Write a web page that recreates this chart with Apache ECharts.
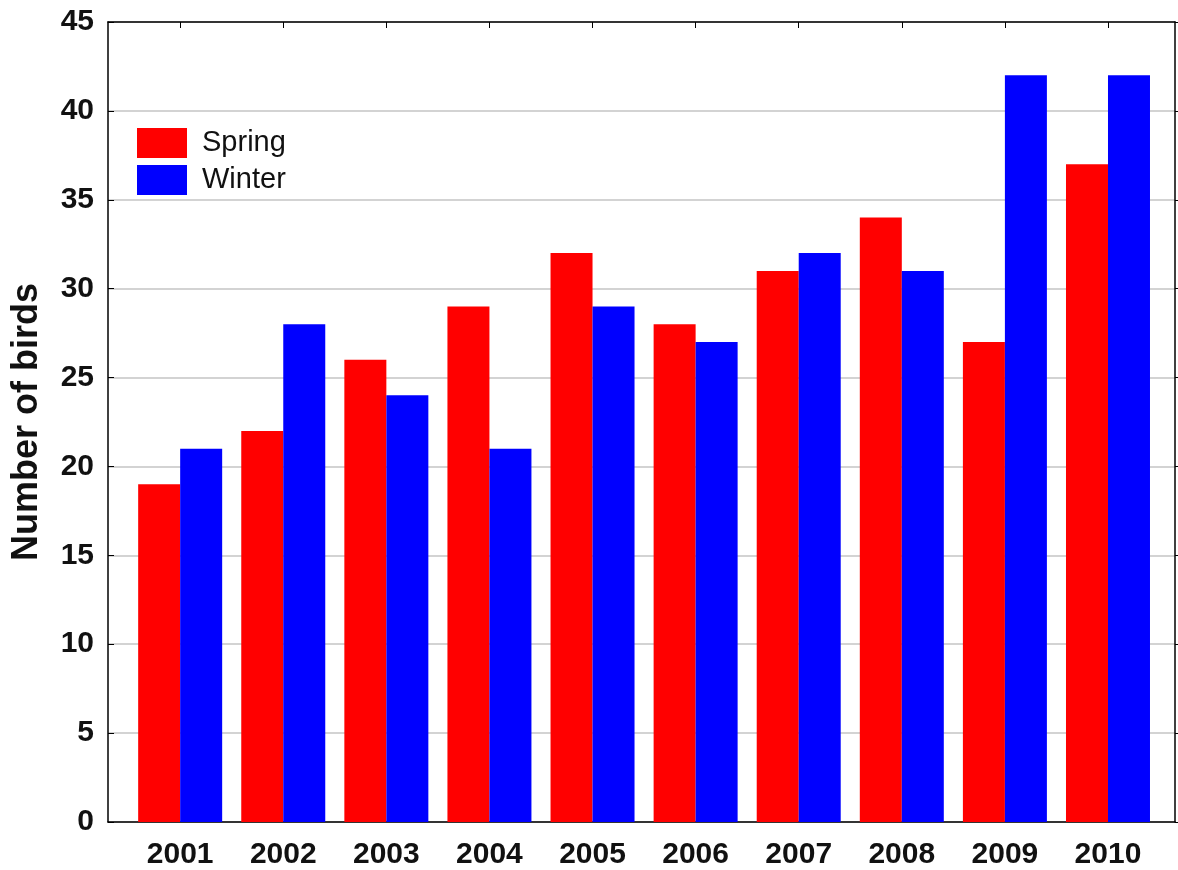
<!DOCTYPE html>
<html>
<head>
<meta charset="utf-8">
<script src="https://cdn.jsdelivr.net/npm/echarts@6/dist/echarts.min.js"></script>
<style>html,body{margin:0;padding:0;background:#fff}#c{width:1178px;height:870px}</style>
</head>
<body>
<div id="c"></div>
<script>
var years = [2001, 2002, 2003, 2004, 2005, 2006, 2007, 2008, 2009, 2010];
var spring = [19, 22, 26, 29, 32, 28, 31, 34, 27, 37];
var winter = [21, 28, 24, 21, 29, 27, 32, 31, 42, 42];
var yTicks = [0, 5, 10, 15, 20, 25, 30, 35, 40, 45];

var chart = echarts.init(document.getElementById('c'));
var font = 'Liberation Sans, Arial, sans-serif';
function pairs(v) { return years.map(function (y, i) { return [y, v[i]]; }); }

chart.setOption({
  animation: false,
  backgroundColor: '#fff',
  grid: { left: 108, right: 3, top: 22, bottom: 48, containLabel: false, outerBoundsMode: 'none' },
  legend: {
    orient: 'vertical', left: 132, top: 123,
    itemWidth: 50, itemHeight: 30, itemGap: 7,
    icon: 'rect',
    textStyle: { fontFamily: font, fontSize: 29, color: '#111', padding: [0, 0, 0, 10] },
    data: ['Spring', 'Winter']
  },
  xAxis: [{
    type: 'value', min: 2000.3, max: 2010.65,
    axisLine: { show: true, onZero: false, lineStyle: { color: '#000', width: 1.5 } },
    axisTick: { show: false },
    splitLine: { show: false },
    axisLabel: {
      customValues: years, margin: 18,
      fontFamily: font, fontWeight: 'bold', fontSize: 30, color: '#111',
      formatter: function (v) { return String(v); }
    }
  }, {
    type: 'value', min: 2000.3, max: 2010.65, position: 'top',
    axisLine: { show: true, onZero: false, lineStyle: { color: '#000', width: 1.5 } },
    axisTick: { show: true, inside: true, length: 6, customValues: years, lineStyle: { color: '#000' } },
    axisLabel: { show: false },
    splitLine: { show: false }
  }],
  yAxis: [{
    type: 'value', min: 0, max: 45, interval: 5,
    name: 'Number of birds', nameLocation: 'middle', nameGap: 63,
    nameTextStyle: { fontFamily: font, fontWeight: 'bold', fontSize: 36, color: '#111' },
    axisLine: { show: true, onZero: false, lineStyle: { color: '#000', width: 1.5 } },
    axisTick: { show: true, inside: true, length: 6, lineStyle: { color: '#000' } },
    axisLabel: { fontFamily: font, fontWeight: 'bold', fontSize: 30, color: '#111', margin: 14 },
    splitLine: { show: true, lineStyle: { color: '#c4c4c4', width: 1.5 } }
  }, {
    type: 'value', min: 0, max: 45, interval: 5, position: 'right',
    axisLine: { show: true, onZero: false, lineStyle: { color: '#000', width: 1.5 } },
    axisTick: { show: true, inside: false, length: 4, lineStyle: { color: '#000' } },
    axisLabel: { show: false },
    splitLine: { show: false }
  }],
  series: [{
    name: 'Spring', type: 'bar', xAxisIndex: 0, yAxisIndex: 0,
    data: pairs(spring), barWidth: 42, barGap: '0%',
    itemStyle: { color: '#ff0000' }
  }, {
    name: 'Winter', type: 'bar', xAxisIndex: 0, yAxisIndex: 0,
    data: pairs(winter), barWidth: 42, barGap: '0%',
    itemStyle: { color: '#0000ff' }
  }]
});
</script>
</body>
</html>
